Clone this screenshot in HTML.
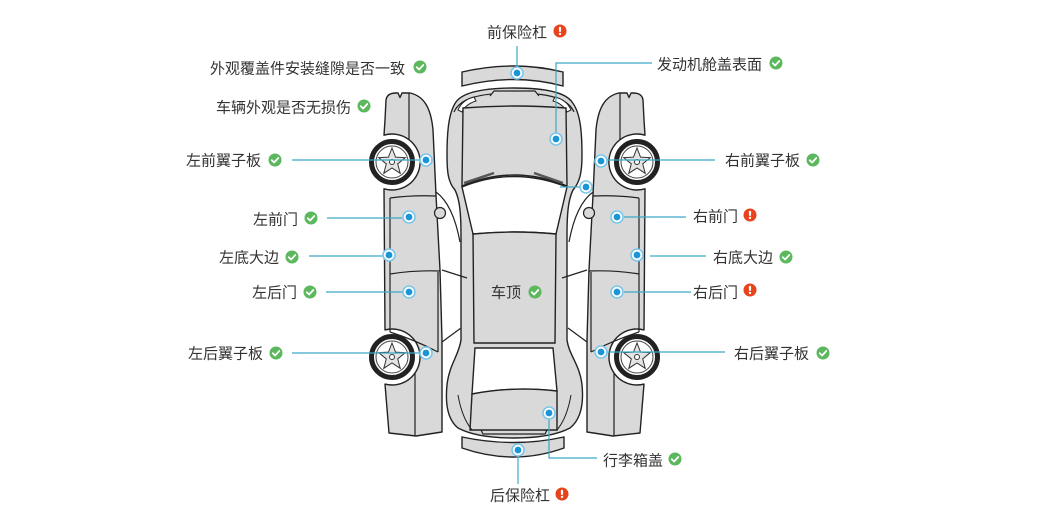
<!DOCTYPE html>
<html><head><meta charset="utf-8">
<style>
html,body{margin:0;padding:0;background:#fff;}
svg{display:block;}
text{font-family:"Liberation Sans","Noto Sans CJK SC",sans-serif;font-size:15px;fill:#333;}
</style></head><body>
<svg width="1061" height="528" viewBox="0 0 1061 528" xmlns="http://www.w3.org/2000/svg">
<defs>
 <g id="ok"><circle r="6.5" fill="#5cb85c"/><path d="M-3.2 0.2 L-0.9 2.5 L3.3 -2" fill="none" stroke="#fff" stroke-width="1.8" stroke-linecap="round" stroke-linejoin="round"/></g>
 <g id="bad"><circle r="6.5" fill="#e8431c"/><rect x="-1.1" y="-4.2" width="2.2" height="5.2" rx="1" fill="#fff"/><circle cy="2.9" r="1.2" fill="#fff"/></g>
 <g id="dot"><circle r="6" fill="#fff" stroke="#7cc6ea" stroke-width="1.6"/><circle r="3.4" fill="#1b95d6"/></g>
 <g id="wheel">
  <circle r="20.5" fill="#fff" stroke="#222" stroke-width="5"/>
  <circle r="16" fill="#fff" stroke="#444" stroke-width="1"/>
  <polygon points="0,-14 3.53,-4.85 13.31,-4.33 5.71,1.85 8.23,11.33 0,6 -8.23,11.33 -5.71,1.85 -13.31,-4.33 -3.53,-4.85" fill="#e4e4e4" stroke="#333" stroke-width="1"/>
  <circle r="2.5" fill="#fff" stroke="#333" stroke-width="1"/>
 </g>
 <g id="panel">
  <path d="M386 100 Q387 93 396 93 L398 93 L400 97.5 L402 93 L410 93 C424 96 431 108 433 130 L436 195 L440 270 L442 340 L442 432 L416 436 L389 433 L385 384.1 A28 28 0 1 0 385 329.9 L384 188.8 A28 28 0 1 0 384 135.2 L385 120 Z" fill="#d9d9d9" stroke="#222" stroke-width="1.4" stroke-linejoin="round"/>
  <g fill="none" stroke="#222" stroke-width="1.2">
   <path d="M409 93 L409 140"/>
   <path d="M390 198 Q412 195 436 196"/>
   <path d="M390 198 L390 332"/>
   <path d="M390 274 Q415 270 440 271"/>
   <path d="M390 332 Q415 340 438 352"/>
   <path d="M438 272 L438 352"/>
   <path d="M415 373 L415 436"/>
   <path d="M442 270 L467 278"/>
   <path d="M442 342 L461 328"/>
   <path d="M436 192 C447 200 455 215 460 242"/>
  </g>
  <circle cx="440" cy="213" r="5.5" fill="#d9d9d9" stroke="#222" stroke-width="1.2"/>
  <use href="#wheel" x="392" y="162"/>
  <use href="#wheel" x="392" y="357"/>
 </g>
</defs>

<!-- center car -->
<path d="M514 88 C545 88 565 92 572 102 C580 112 582 130 582 155 C582 172 580 182 573 190 C568 200 567 215 567 235 L567 340 C569 355 580 365 582 385 C584 405 580 420 570 428 C555 436 535 438 514 438 C493 438 473 436 458 428 C448 420 445 405 447 385 C449 365 459 355 461 340 L461 235 C461 215 460 200 455 190 C448 182 447 172 447 155 C447 130 449 112 456 102 C463 92 483 88 514 88 Z" fill="#d9d9d9" stroke="#222" stroke-width="1.4"/>
<path d="M454 112 C460 98 480 93 514 93 C548 93 568 98 574 112" fill="none" stroke="#222" stroke-width="1.2"/>
<path d="M490 96 L494 91 L535 91 L539 96" fill="#d9d9d9" stroke="#222" stroke-width="1.2"/>
<path d="M458 110 Q462 100 474 97 L476 101 Q466 104 462 112 Z" fill="#fff" stroke="#222" stroke-width="1"/>
<path d="M571 110 Q567 100 555 97 L553 101 Q563 104 567 112 Z" fill="#fff" stroke="#222" stroke-width="1"/>
<path d="M463 108 Q514 104 566 108 L567 186 Q514 164 462 186 Z" fill="#d9d9d9" stroke="#222" stroke-width="1.4"/>
<path d="M462 187 Q514 166 567 187 L556 234 Q514 230 473 234 Z" fill="#fff" stroke="#222" stroke-width="1.4"/>
<path d="M464 183 L494 173" stroke="#555" stroke-width="2.5"/>
<path d="M534 173 L563 183" stroke="#555" stroke-width="2.5"/>
<path d="M473 234 Q514 230 556 234 L555 343 L474 343 Z" fill="#d9d9d9" stroke="#222" stroke-width="1.4"/>
<path d="M475 348 L553 348 L557 391 Q514 386 472 394 Z" fill="#fff" stroke="#222" stroke-width="1.4"/>
<path d="M472 394 Q514 386 557 391 L557 430 L470 430 Z" fill="#d9d9d9" stroke="#222" stroke-width="1.4"/>
<path d="M481 430 L483 434 L545 434 L547 430" fill="none" stroke="#222" stroke-width="1.2"/>
<path d="M458 395 Q462 418 472 430" fill="none" stroke="#222" stroke-width="1"/>
<path d="M571 395 Q567 418 557 430" fill="none" stroke="#222" stroke-width="1"/>

<!-- bumpers -->
<path d="M462 72 Q514 60 563 72 L563 86 Q514 73 462 86 Z" fill="#d9d9d9" stroke="#222" stroke-width="1.4"/>
<path d="M462 437 Q514 448 564 437 L564 448 Q514 466 462 448 Z" fill="#d9d9d9" stroke="#222" stroke-width="1.4"/>

<!-- side panels -->
<use href="#panel"/>
<use href="#panel" transform="translate(1029 0) scale(-1 1)"/>

<!-- connectors -->
<g fill="none" stroke="#3ea6c6" stroke-width="1.2">
 <path d="M517 46 L517 67"/>
 <path d="M556 133 L556 63 L652 63"/>
 <path d="M560 187 L580 187"/>
 <path d="M292 160 L420 160"/>
 <path d="M607 160 L715 160"/>
 <path d="M327 218 L402 218"/>
 <path d="M624 217 L686 217"/>
 <path d="M309 256 L383 256"/>
 <path d="M650 256 L706 256"/>
 <path d="M326 292 L403 292"/>
 <path d="M624 292 L691 292"/>
 <path d="M292 353 L420 353"/>
 <path d="M607 352 L725 352"/>
 <path d="M549 419 L549 458 L597 458"/>
 <path d="M518 456 L518 484"/>
</g>

<!-- dots -->
<use href="#dot" x="517" y="73"/>
<use href="#dot" x="556" y="139"/>
<use href="#dot" x="586" y="187"/>
<use href="#dot" x="426" y="160"/>
<use href="#dot" x="601" y="161"/>
<use href="#dot" x="409" y="217"/>
<use href="#dot" x="617" y="217"/>
<use href="#dot" x="389" y="255"/>
<use href="#dot" x="637" y="255"/>
<use href="#dot" x="409" y="292"/>
<use href="#dot" x="617" y="292"/>
<use href="#dot" x="426" y="353"/>
<use href="#dot" x="601" y="352"/>
<use href="#dot" x="549" y="413"/>
<use href="#dot" x="518" y="450"/>

<!-- labels -->
<text x="487" y="37.5">前保险杠</text><use href="#bad" x="560" y="31"/>
<text x="210" y="73.5">外观覆盖件安装缝隙是否一致</text><use href="#ok" x="420" y="67"/>
<text x="216" y="112.5">车辆外观是否无损伤</text><use href="#ok" x="364" y="106"/>
<text x="657" y="69.5">发动机舱盖表面</text><use href="#ok" x="776" y="63"/>
<text x="186" y="165.5">左前翼子板</text><use href="#ok" x="275" y="160"/>
<text x="725" y="165.5">右前翼子板</text><use href="#ok" x="813" y="160"/>
<text x="253" y="224.5">左前门</text><use href="#ok" x="311" y="218"/>
<text x="693" y="221.5">右前门</text><use href="#bad" x="750" y="215"/>
<text x="219" y="262.5">左底大边</text><use href="#ok" x="292" y="257"/>
<text x="713" y="262.5">右底大边</text><use href="#ok" x="786" y="257"/>
<text x="252" y="297.5">左后门</text><use href="#ok" x="310" y="292"/>
<text x="693" y="297.5">右后门</text><use href="#bad" x="750" y="290"/>
<text x="188" y="358.5">左后翼子板</text><use href="#ok" x="276" y="353"/>
<text x="734" y="358.5">右后翼子板</text><use href="#ok" x="823" y="353"/>
<text x="491" y="297.5">车顶</text><use href="#ok" x="535" y="292"/>
<text x="603" y="465.5">行李箱盖</text><use href="#ok" x="675" y="459"/>
<text x="490" y="500.5">后保险杠</text><use href="#bad" x="562" y="494"/>
</svg>
</body></html>
